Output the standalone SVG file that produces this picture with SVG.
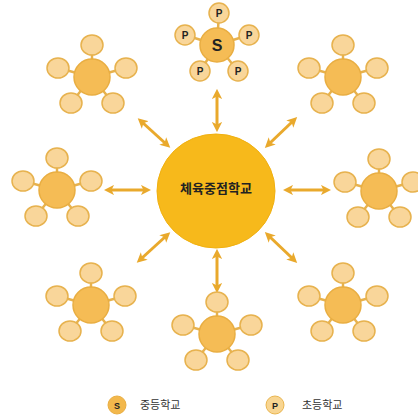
<svg xmlns="http://www.w3.org/2000/svg" xmlns:xlink="http://www.w3.org/1999/xlink" width="418" height="419" viewBox="0 0 418 419">
<style>
.spoke{stroke:#E7B24E;stroke-width:2.5}
.hub{fill:#F5BC55;stroke:#E9AE42;stroke-width:1.5}
.sat{fill:#F9D69A;stroke:#E7B24E;stroke-width:1.5}
.arr{stroke:#E9A92C;stroke-width:3;fill:none;marker-start:url(#ah);marker-end:url(#ah)}
.lbl{font-family:"Liberation Sans","Noto Sans CJK KR",sans-serif;font-weight:bold;fill:#222;text-anchor:middle}
.leg{font-family:"Noto Sans CJK KR","Liberation Sans",sans-serif;font-size:11px;fill:#333}
</style>
<defs>
<marker id="ah" viewBox="0 0 10 10" refX="3" refY="5" markerWidth="3.4" markerHeight="3.4" orient="auto-start-reverse" markerUnits="strokeWidth">
<path d="M0,0 L10,5 L0,10 L2.5,5 Z" fill="#E9A92C"/>
</marker>
<g id="cluster">
<line class="spoke" x1="0" y1="0" x2="0" y2="-32"/>
<line class="spoke" x1="0" y1="0" x2="-34" y2="-9"/>
<line class="spoke" x1="0" y1="0" x2="34" y2="-9"/>
<line class="spoke" x1="0" y1="0" x2="-21" y2="26"/>
<line class="spoke" x1="0" y1="0" x2="21" y2="26"/>
<ellipse class="sat" cx="0" cy="-32" rx="11" ry="10"/>
<ellipse class="sat" cx="-34" cy="-9" rx="11" ry="10"/>
<ellipse class="sat" cx="34" cy="-9" rx="11" ry="10"/>
<ellipse class="sat" cx="-21" cy="26" rx="11" ry="10"/>
<ellipse class="sat" cx="21" cy="26" rx="11" ry="10"/>
<circle class="hub" cx="0" cy="0" r="18"/>
</g>
</defs>
<rect width="418" height="419" fill="#fff"/>
<g id="connectors">
<line class="arr" x1="217" y1="96" x2="217" y2="125"/>
<line class="arr" x1="143" y1="123" x2="165" y2="143"/>
<line class="arr" x1="292" y1="122" x2="270" y2="143"/>
<line class="arr" x1="111" y1="190" x2="144" y2="190"/>
<line class="arr" x1="290" y1="190" x2="324" y2="190"/>
<line class="arr" x1="165" y1="237" x2="142" y2="258"/>
<line class="arr" x1="217" y1="256" x2="217" y2="286"/>
<line class="arr" x1="270" y1="237" x2="292" y2="258"/>
</g>
<g id="center">
<ellipse cx="216" cy="191" rx="59" ry="57" fill="#F7B91B" stroke="#F0B010" stroke-width="1"/>
<text class="lbl" x="216" y="193" font-size="13">체육중점학교</text>
</g>
<g id="top">
<line class="spoke" x1="217" y1="45" x2="219" y2="13"/>
<line class="spoke" x1="217" y1="45" x2="185" y2="35"/>
<line class="spoke" x1="217" y1="45" x2="249" y2="35"/>
<line class="spoke" x1="217" y1="45" x2="200" y2="71"/>
<line class="spoke" x1="217" y1="45" x2="238" y2="71"/>
<circle class="sat" cx="219" cy="13" r="10"/>
<circle class="sat" cx="185" cy="35" r="10"/>
<circle class="sat" cx="249" cy="35" r="10"/>
<circle class="sat" cx="200" cy="71" r="10"/>
<circle class="sat" cx="238" cy="71" r="10"/>
<circle class="hub" cx="217" cy="45" r="17"/>
<text class="lbl" x="217" y="51" font-size="16">S</text>
<text class="lbl" x="219" y="17" font-size="10">P</text>
<text class="lbl" x="185" y="39" font-size="10">P</text>
<text class="lbl" x="249" y="39" font-size="10">P</text>
<text class="lbl" x="200" y="75" font-size="10">P</text>
<text class="lbl" x="238" y="75" font-size="10">P</text>
</g>
<g id="top-left"><use xlink:href="#cluster" transform="translate(92,77)"/></g>
<g id="top-right"><use xlink:href="#cluster" transform="translate(343,77)"/></g>
<g id="left"><use xlink:href="#cluster" transform="translate(57,190)"/></g>
<g id="right"><use xlink:href="#cluster" transform="translate(379,191)"/></g>
<g id="bottom-left"><use xlink:href="#cluster" transform="translate(91,305)"/></g>
<g id="bottom-right"><use xlink:href="#cluster" transform="translate(343,305)"/></g>
<g id="bottom"><use xlink:href="#cluster" transform="translate(217,334)"/></g>
<g id="legend">
<circle cx="117" cy="405" r="9" fill="#F3B84C" stroke="#E9AE42" stroke-width="1"/>
<text class="lbl" x="117" y="409" font-size="9">S</text>
<text class="leg" x="140" y="409">중등학교</text>
<circle cx="275" cy="405" r="9" fill="#F8D591" stroke="#E9B54F" stroke-width="1"/>
<text class="lbl" x="275" y="409" font-size="9">P</text>
<text class="leg" x="302" y="409">초등학교</text>
</g>
</svg>
